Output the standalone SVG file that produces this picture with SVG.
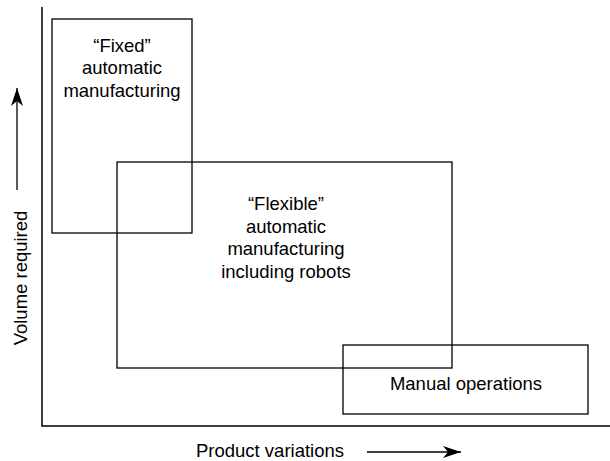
<svg xmlns="http://www.w3.org/2000/svg" width="610" height="461" viewBox="0 0 610 461">
<style>
.box{fill:none;stroke:#000;stroke-width:1.3}
.ax{stroke:#000;stroke-width:1.5;fill:none}
.t{font-family:"Liberation Sans",Arial,sans-serif;font-size:18.5px;fill:#000;text-anchor:middle}
</style>
<defs>
<marker id="ah" markerWidth="18" markerHeight="12" refX="18" refY="6" orient="auto" markerUnits="userSpaceOnUse">
<path d="M0,0 L18,6 L0,12 L5,6 Z" fill="#000"/>
</marker>
</defs>
<rect width="610" height="461" fill="#fff"/>
<g id="axes">
<path class="ax" d="M42,7 V426 H610"/>
</g>
<g id="fixed">
<rect class="box" x="52" y="19" width="140" height="214"/>
<text class="t" x="122" y="52">“Fixed”</text>
<text class="t" x="122" y="74">automatic</text>
<text class="t" x="122" y="97">manufacturing</text>
</g>
<g id="flexible">
<rect class="box" x="117" y="162" width="335" height="206"/>
<text class="t" x="286" y="210">“Flexible”</text>
<text class="t" x="286" y="233">automatic</text>
<text class="t" x="286" y="255">manufacturing</text>
<text class="t" x="286" y="278">including robots</text>
</g>
<g id="manual">
<rect class="box" x="343" y="345" width="245" height="69"/>
<text class="t" x="466" y="390">Manual operations</text>
</g>
<g id="labels">
<text class="t" x="270" y="457">Product variations</text>
<text class="t" transform="translate(27,278) rotate(-90)">Volume required</text>
</g>
<g id="connectors">
<line x1="367" y1="452" x2="461" y2="452" stroke="#000" stroke-width="1.3" marker-end="url(#ah)"/>
<line x1="17" y1="190" x2="17" y2="88" stroke="#000" stroke-width="1.3" marker-end="url(#ah)"/>
</g>
</svg>
